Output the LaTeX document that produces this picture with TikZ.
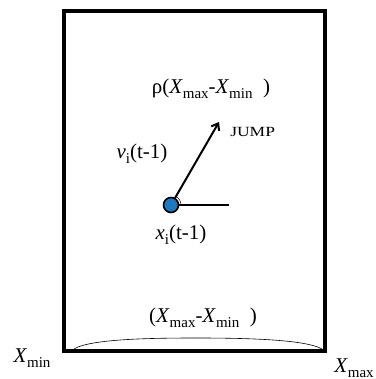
\documentclass[tikz,border=0pt]{standalone}
\usepackage{fontspec}
\setmainfont{Liberation Serif}
\usetikzlibrary{arrows.meta}
\newcommand{\mysub}[1]{\raisebox{-0.22em}{\fontsize{15}{15}\selectfont #1}}
\begin{document}
\begin{tikzpicture}[x=1pt,y=-1pt,
  lbl/.style={inner sep=0pt, font=\fontsize{21}{24}\selectfont},
  small/.style={inner sep=0pt, font=\fontsize{14}{16}\selectfont}]
\useasboundingbox (0,0) rectangle (375,379);
\draw[line width=3.2pt] (64,11) rectangle (325,351);
\coordinate (c) at (171,205);
\coordinate (h) at (229,205);
\coordinate (tip) at (219,122);
\draw[line width=2pt] (c) -- (h);
\draw[line width=2pt,-{Straight Barb[length=6pt,width=9pt]}] (c) -- (tip);
\draw[line width=0.5pt] ([shift={(0:10)}]c) arc[start angle=0,end angle=-62,radius=10];
\node[circle, draw, line width=1.6pt, fill={rgb,255:red,30;green,120;blue,190}, minimum size=15pt, inner sep=0pt] (dot) at (c) {};
\node[small, anchor=west, xscale=1.25] (jump) at (230,132) {JUMP};
\node[lbl] (v) at (142,154) {\textit{v}\mysub{i}(t-1)};
\node[lbl] (x) at (181,235) {\textit{x}\mysub{i}(t-1)};
\node[lbl] (rho) at (211,89) {ρ(\textit{X}\mysub{max}-\textit{X}\mysub{min}\ \ )};
\node[lbl] (rng) at (203,318) {(\textit{X}\mysub{max}-\textit{X}\mysub{min}\ \ )};
\node[lbl] (xmin) at (32,358) {\textit{X}\mysub{min}};
\node[lbl] (xmax) at (354,368) {\textit{X}\mysub{max}};
\coordinate (bl) at (74,349);
\coordinate (bm) at (196,338);
\coordinate (br) at (322,349);
\draw[line width=0.6pt] (bl) .. controls (90,339) and (150,338) .. (bm);
\draw[line width=0.6pt] (bm) .. controls (240,338) and (305,339) .. (br);
\end{tikzpicture}
\end{document}
